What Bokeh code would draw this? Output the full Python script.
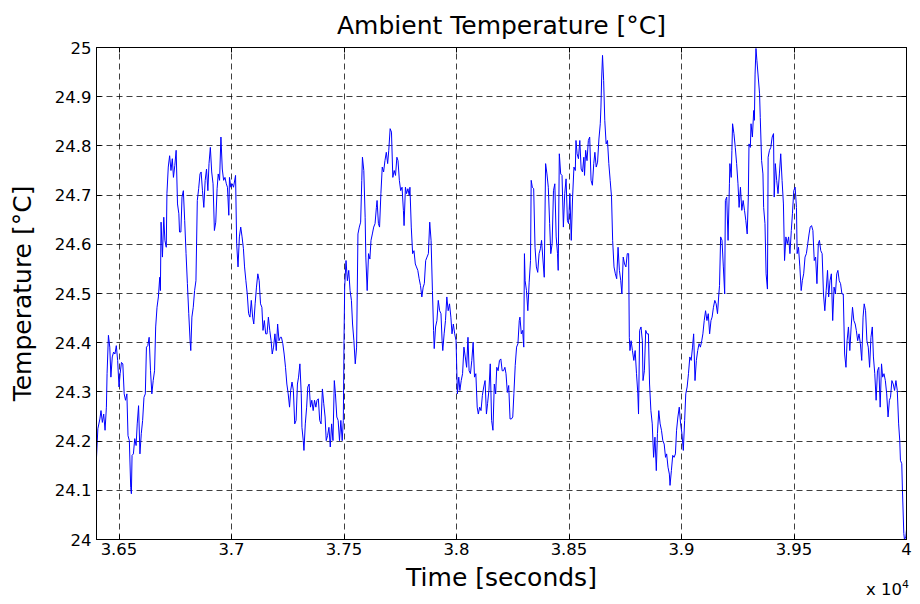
from bokeh.plotting import figure
from bokeh.models import FixedTicker, LinearAxis, Range1d, Div
from bokeh.layouts import column
from bokeh.embed import file_html
from bokeh.resources import INLINE

FONT = "DejaVu Sans"

title_text = "Ambient Temperature [°C]"
x_label = "Time [seconds]"
y_label = "Temperature [°C]"

x_ticks = [36500, 37000, 37500, 38000, 38500, 39000, 39500, 40000]
x_tick_labels = ["3.65", "3.7", "3.75", "3.8", "3.85", "3.9", "3.95", "4"]
y_ticks = [24.0, 24.1, 24.2, 24.3, 24.4, 24.5, 24.6, 24.7, 24.8, 24.9, 25.0]
y_tick_labels = ["24", "24.1", "24.2", "24.3", "24.4", "24.5", "24.6", "24.7", "24.8", "24.9", "25"]
x_multiplier = "x 10"
x_exponent = "4"

time_s = [
    36400, 36406, 36415, 36420, 36426, 36432, 36438, 36444, 36447, 36453, 36459, 36464,
    36470, 36476, 36482, 36488, 36494, 36500, 36505, 36511, 36517, 36523, 36529, 36535,
    36540, 36546, 36552, 36555, 36558, 36564, 36570, 36576, 36581, 36587, 36593, 36599,
    36605, 36611, 36617, 36622, 36628, 36634, 36640, 36646, 36652, 36658, 36663, 36669,
    36675, 36681, 36684, 36687, 36693, 36699, 36704, 36710, 36713, 36719, 36725, 36731,
    36737, 36742, 36748, 36754, 36760, 36766, 36769, 36775, 36780, 36786, 36792, 36798,
    36804, 36810, 36816, 36819, 36824, 36830, 36836, 36842, 36848, 36854, 36860, 36865,
    36871, 36877, 36883, 36889, 36895, 36900, 36906, 36912, 36918, 36924, 36930, 36936,
    36941, 36947, 36953, 36959, 36965, 36971, 36977, 36982, 36988, 36991, 36997, 37003,
    37009, 37018, 37023, 37029, 37035, 37041, 37047, 37053, 37058, 37064, 37070, 37076,
    37082, 37088, 37094, 37099, 37105, 37111, 37117, 37123, 37129, 37135, 37140, 37146,
    37152, 37158, 37164, 37170, 37176, 37181, 37187, 37193, 37199, 37205, 37211, 37217,
    37222, 37228, 37234, 37240, 37246, 37252, 37258, 37263, 37269, 37275, 37281, 37287,
    37293,
    37298, 37304, 37310, 37313, 37319, 37322, 37328, 37334, 37339, 37345, 37351, 37357,
    37363, 37369, 37375, 37380, 37386, 37392, 37398, 37404, 37410, 37416, 37421, 37427,
    37433, 37439, 37445, 37451, 37457, 37462, 37468, 37474, 37480, 37486, 37492, 37497,
    37500, 37503, 37509, 37515, 37521, 37527, 37533, 37538, 37544, 37550, 37556, 37562,
    37568, 37574, 37579, 37582, 37588, 37594, 37597, 37603, 37609, 37615, 37620, 37626,
    37632, 37638, 37644, 37647, 37653, 37658, 37664, 37670, 37676, 37682, 37688, 37694,
    37699, 37705, 37711, 37717, 37723, 37729, 37735, 37740, 37746, 37752, 37758, 37764,
    37767, 37773, 37778, 37784, 37790, 37793, 37799, 37805, 37811, 37817, 37822, 37828,
    37834, 37840, 37846, 37852, 37857, 37863, 37869, 37875, 37881, 37887, 37893, 37898,
    37901, 37907, 37913, 37919, 37925, 37931, 37936, 37939, 37945, 37951, 37957, 37963,
    37969, 37975, 37980, 37986, 37992, 37998, 38004, 38010, 38015, 38021, 38027, 38033,
    38039, 38045, 38051, 38056, 38062, 38068, 38074, 38080, 38086, 38092, 38097, 38103,
    38109, 38115, 38121, 38127, 38133, 38138, 38144, 38150, 38156, 38162, 38168,
    38174, 38179, 38185, 38191, 38197, 38203, 38209, 38215, 38220, 38226, 38232, 38238,
    38244, 38250, 38255, 38261, 38267, 38273, 38279, 38282, 38288, 38294, 38299, 38302,
    38305, 38311, 38317, 38323, 38329, 38332, 38337, 38343, 38349, 38355, 38361, 38367,
    38373, 38378, 38384, 38390, 38396, 38402, 38408, 38414, 38419, 38425, 38431, 38437,
    38443, 38449, 38452, 38457, 38463, 38469, 38475, 38481, 38487, 38493, 38498, 38504,
    38510, 38516, 38522, 38528, 38531, 38536, 38542, 38548, 38554, 38560, 38566, 38569,
    38574, 38580, 38586, 38592, 38598, 38604, 38610, 38615, 38621, 38627, 38633, 38639,
    38642, 38645, 38649, 38654, 38659, 38665, 38671, 38677, 38683, 38689, 38694, 38700,
    38706, 38712, 38718, 38724, 38730, 38735, 38741, 38747, 38753, 38759, 38765, 38768,
    38771, 38776, 38782, 38788, 38794, 38800, 38806, 38809, 38814, 38820, 38826, 38829,
    38835, 38841, 38847, 38853, 38858, 38864, 38870, 38876, 38882, 38888, 38893, 38899,
    38905, 38911, 38917, 38923, 38929, 38934, 38940, 38946, 38949, 38955, 38961, 38967,
    38973, 38978, 38984, 38990, 38996, 39002, 39008, 39014, 39019, 39025, 39031, 39037,
    39043, 39049,
    39054, 39060, 39066, 39072, 39078, 39084, 39090, 39095, 39101, 39107, 39113, 39119,
    39125, 39131, 39136, 39142, 39148, 39154, 39160, 39166, 39169, 39174, 39180, 39186,
    39192, 39195, 39201, 39207, 39213, 39215, 39221, 39224, 39227, 39233, 39239, 39245,
    39251, 39256, 39262, 39268, 39274, 39280, 39286, 39292, 39297, 39300, 39306, 39309,
    39315, 39321, 39324, 39327, 39331, 39335, 39341, 39347, 39350, 39356, 39362, 39365,
    39371, 39376, 39382, 39385, 39391, 39397, 39403, 39409, 39412, 39417, 39423, 39429,
    39435, 39441, 39447, 39453, 39458, 39464, 39470, 39476, 39482, 39488, 39493, 39499,
    39505, 39511, 39514, 39520, 39526, 39532, 39537, 39543, 39549, 39555, 39561, 39567,
    39572, 39578, 39584, 39590, 39596, 39602, 39608, 39613, 39619, 39625, 39631, 39637,
    39643, 39649, 39654, 39660, 39666, 39672, 39678, 39684, 39690, 39695, 39701, 39707,
    39713, 39719, 39725, 39731, 39736, 39742, 39748, 39754, 39760, 39766, 39772, 39777,
    39783, 39789, 39795, 39801, 39807, 39812, 39818, 39824, 39830, 39836, 39842, 39848,
    39853, 39859, 39865, 39871, 39877, 39883, 39889, 39894, 39900, 39906, 39912, 39918,
    39924, 39929, 39935, 39941, 39947, 39953, 39959, 39965, 39970, 39973, 39979, 39982,
    39988, 39991, 39997, 40000,
]

temp_c = [
    24.167, 24.225, 24.245, 24.262, 24.238, 24.255, 24.222, 24.269, 24.337, 24.415, 24.391, 24.330,
    24.371, 24.381, 24.377, 24.394, 24.364, 24.310, 24.337, 24.360, 24.357, 24.296, 24.283, 24.296,
    24.211, 24.201, 24.106, 24.093, 24.171, 24.174, 24.205, 24.191, 24.235, 24.272, 24.174, 24.215,
    24.242, 24.289, 24.296, 24.391, 24.394, 24.411, 24.343, 24.296, 24.323, 24.343, 24.432, 24.472,
    24.493, 24.533, 24.506, 24.645, 24.574, 24.655, 24.608, 24.594, 24.703, 24.757, 24.780, 24.750,
    24.774, 24.736, 24.760, 24.791, 24.682, 24.662, 24.625, 24.625, 24.696, 24.709, 24.648, 24.581,
    24.520, 24.459, 24.404, 24.384, 24.452, 24.472, 24.506, 24.526, 24.689, 24.713, 24.743, 24.747,
    24.709, 24.675, 24.730, 24.753, 24.709, 24.764, 24.797, 24.747, 24.723, 24.628, 24.645, 24.713,
    24.743, 24.730, 24.818, 24.753, 24.730, 24.736, 24.723, 24.716, 24.659, 24.736, 24.716, 24.723,
    24.716, 24.740, 24.601, 24.554, 24.615, 24.635, 24.615, 24.591, 24.554, 24.526, 24.499, 24.459,
    24.452, 24.486, 24.452, 24.438, 24.479, 24.513, 24.540, 24.526, 24.479, 24.472, 24.425, 24.445,
    24.418, 24.418, 24.452, 24.425, 24.404, 24.377, 24.391, 24.418, 24.384, 24.438, 24.404, 24.411,
    24.411, 24.398, 24.377, 24.350, 24.316, 24.296, 24.269, 24.303, 24.320, 24.303, 24.235, 24.242,
    24.316,
    24.330, 24.357, 24.296, 24.228, 24.201, 24.181, 24.235, 24.269, 24.310, 24.316, 24.269, 24.283,
    24.262, 24.283, 24.269, 24.283, 24.286, 24.242, 24.235, 24.306, 24.276, 24.249, 24.201, 24.211,
    24.228, 24.188, 24.235, 24.201, 24.323, 24.296, 24.249, 24.242, 24.201, 24.242, 24.201, 24.242,
    24.404, 24.513, 24.567, 24.526, 24.547, 24.506, 24.486, 24.438, 24.404, 24.357, 24.391, 24.621,
    24.635, 24.645, 24.730, 24.777, 24.750, 24.655, 24.574, 24.506, 24.581, 24.570, 24.608, 24.621,
    24.635, 24.642, 24.675, 24.689, 24.642, 24.635, 24.703, 24.757, 24.747, 24.770, 24.787, 24.764,
    24.791, 24.835, 24.828, 24.736, 24.750, 24.740, 24.777, 24.770, 24.730, 24.709, 24.716, 24.669,
    24.638, 24.716, 24.703, 24.713, 24.699, 24.716, 24.635, 24.581, 24.587, 24.560, 24.554, 24.547,
    24.530, 24.516, 24.493, 24.513, 24.520, 24.567, 24.574, 24.581, 24.645, 24.608, 24.506, 24.425,
    24.388, 24.432, 24.445, 24.486, 24.465, 24.459, 24.404, 24.384, 24.418, 24.445, 24.493, 24.465,
    24.479, 24.452, 24.418, 24.438, 24.418, 24.404, 24.296, 24.330, 24.303, 24.323, 24.337, 24.391,
    24.371, 24.350, 24.411, 24.343, 24.337, 24.364, 24.401, 24.330, 24.337, 24.269, 24.255, 24.269,
    24.262, 24.293, 24.310, 24.323, 24.255, 24.276, 24.303, 24.357, 24.242, 24.222, 24.316,
    24.296, 24.350, 24.343, 24.364, 24.367, 24.343, 24.343, 24.350, 24.337, 24.299, 24.313, 24.245,
    24.245, 24.249, 24.296, 24.354, 24.391, 24.398, 24.445, 24.452, 24.418, 24.425, 24.391, 24.581,
    24.526, 24.506, 24.465, 24.523, 24.567, 24.730, 24.716, 24.713, 24.594, 24.554, 24.543, 24.581,
    24.591, 24.608, 24.570, 24.533, 24.764, 24.743, 24.716, 24.642, 24.581, 24.601, 24.709, 24.723,
    24.615, 24.581, 24.547, 24.784, 24.743, 24.740, 24.635, 24.703, 24.733, 24.648, 24.642, 24.703,
    24.608, 24.696, 24.757, 24.750, 24.811, 24.784, 24.774, 24.811, 24.753, 24.747, 24.777, 24.740,
    24.791, 24.770, 24.811, 24.818, 24.730, 24.720, 24.764, 24.787, 24.757, 24.767, 24.814, 24.845,
    24.879, 24.936, 24.984, 24.933, 24.852, 24.804, 24.811, 24.764, 24.730, 24.696, 24.608, 24.554,
    24.540, 24.530, 24.594, 24.547, 24.526, 24.499, 24.574, 24.560, 24.554, 24.581, 24.581, 24.411,
    24.384, 24.404, 24.384, 24.364, 24.384, 24.337, 24.296, 24.255, 24.425, 24.432, 24.404, 24.323,
    24.343, 24.425, 24.418, 24.418, 24.316, 24.262, 24.235, 24.167, 24.208, 24.140, 24.215, 24.262,
    24.235, 24.222, 24.201, 24.194, 24.167, 24.174, 24.147, 24.133, 24.110, 24.140, 24.171, 24.167,
    24.174, 24.222, 24.249, 24.269, 24.235, 24.215, 24.181, 24.242, 24.296, 24.310, 24.337, 24.371,
    24.364, 24.391,
    24.418, 24.323, 24.364, 24.384, 24.398, 24.391, 24.404, 24.418, 24.445, 24.465, 24.445, 24.459,
    24.418, 24.445, 24.452, 24.472, 24.486, 24.479, 24.459, 24.499, 24.516, 24.615, 24.608, 24.554,
    24.499, 24.689, 24.696, 24.608, 24.723, 24.764, 24.736, 24.791, 24.845, 24.825, 24.797, 24.764,
    24.723, 24.675, 24.716, 24.669, 24.689, 24.669, 24.648, 24.621, 24.696, 24.804, 24.797, 24.845,
    24.818, 24.872, 24.852, 24.946, 24.998, 24.974, 24.940, 24.906, 24.858, 24.770, 24.743, 24.675,
    24.642, 24.540, 24.509, 24.777, 24.791, 24.797, 24.818, 24.825, 24.696, 24.764, 24.730, 24.703,
    24.743, 24.784, 24.730, 24.682, 24.567, 24.615, 24.601, 24.615, 24.581, 24.628, 24.662, 24.709,
    24.716, 24.675, 24.581, 24.594, 24.554, 24.506, 24.526, 24.540, 24.574, 24.581, 24.601, 24.621,
    24.635, 24.638, 24.628, 24.567, 24.574, 24.520, 24.601, 24.608, 24.587, 24.581, 24.499, 24.465,
    24.506, 24.547, 24.493, 24.526, 24.540, 24.445, 24.513, 24.499, 24.540, 24.547, 24.526, 24.520,
    24.499, 24.499, 24.377, 24.350, 24.404, 24.432, 24.384, 24.432, 24.472, 24.445, 24.438, 24.425,
    24.404, 24.418, 24.398, 24.364, 24.452, 24.479, 24.465, 24.404, 24.391, 24.350, 24.411, 24.432,
    24.371, 24.337, 24.283, 24.343, 24.350, 24.269, 24.357, 24.330, 24.337, 24.323, 24.296, 24.249,
    24.283, 24.289, 24.323, 24.316, 24.303, 24.323, 24.303, 24.235, 24.201, 24.161, 24.154, 24.100,
    24.012, 24.000, 24.005, 24.020,
]


def style_axis(ax, show_labels=True):
    ax.axis_line_color = "black"
    ax.axis_line_width = 1
    ax.major_tick_line_color = "black"
    ax.major_tick_in = 5
    ax.major_tick_out = 0
    ax.minor_tick_line_color = None
    ax.major_label_text_font = FONT
    ax.major_label_text_color = "black"
    if show_labels:
        ax.major_label_text_font_size = "16.5px"
    else:
        ax.major_label_text_font_size = "0px"
        ax.major_label_standoff = 0


p = figure(
    width=912, height=596,
    x_range=Range1d(36400, 40000), y_range=Range1d(24, 25),
    output_backend="svg", toolbar_location=None,
    min_border_left=96, min_border_right=6, min_border_top=47, min_border_bottom=57,
    title=title_text,
)
p.background_fill_color = "white"
p.border_fill_color = "white"
p.outline_line_color = "black"
p.outline_line_alpha = 1.0

p.title.text_font = FONT
p.title.text_font_size = "25px"
p.title.text_font_style = "normal"
p.title.text_color = "black"
p.title.align = "center"
p.title.standoff = 15

xt = FixedTicker(ticks=x_ticks)
yt = FixedTicker(ticks=y_ticks)
xlab = dict(zip(x_ticks, x_tick_labels))
ylab = dict(zip(y_ticks, y_tick_labels))

bx = p.below[0]
ly = p.left[0]
bx.ticker = xt
ly.ticker = yt
bx.major_label_overrides = xlab
ly.major_label_overrides = ylab
style_axis(bx)
style_axis(ly)
bx.major_label_standoff = 3
ly.major_label_standoff = 5
bx.axis_label = x_label
ly.axis_label = y_label
for ax in (bx, ly):
    ax.axis_label_text_font = FONT
    ax.axis_label_text_font_size = "25px"
    ax.axis_label_text_font_style = "normal"
    ax.axis_label_text_color = "black"
bx.axis_label_standoff = 5
ly.axis_label_standoff = 15

top_ax = LinearAxis(ticker=FixedTicker(ticks=x_ticks))
style_axis(top_ax, show_labels=False)
p.add_layout(top_ax, "above")
right_ax = LinearAxis(ticker=FixedTicker(ticks=y_ticks))
style_axis(right_ax, show_labels=False)
p.add_layout(right_ax, "right")

p.grid.grid_line_color = "black"
p.grid.grid_line_alpha = 0.75
p.grid.grid_line_dash = "6 4"
p.grid.grid_line_width = 1

p.line(time_s, temp_c, line_color="#0000ff", line_width=1)

# axis multiplier "x 10^4", drawn below the lower right corner of the frame
mult_css = (
    ":host { font-family: 'DejaVu Sans' !important; font-size: 16.5px !important; "
    "color: #000 !important; line-height: 16px !important; white-space: nowrap; } "
    ":host * { font-family: 'DejaVu Sans' !important; font-size: 16.5px !important; "
    "line-height: 16px !important; } "
    ":host sup, sup { font-size: 11px !important; }"
)
mult = Div(
    text=f"{x_multiplier}<sup>{x_exponent}</sup>",
    width=46, height=19, margin=(-19, 0, 0, 866),
    stylesheets=[mult_css],
)

layout = column(p, mult, spacing=0)

open("out.html", "w").write(file_html(layout, INLINE))
